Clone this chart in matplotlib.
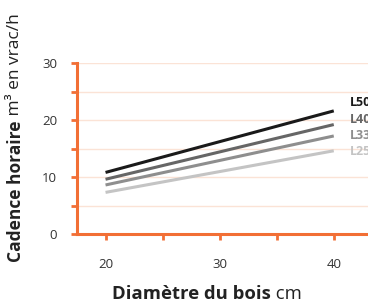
import matplotlib
matplotlib.use("Agg")
import matplotlib.pyplot as plt

# Diameter (cm) vs hourly output (m3 bulk / h) per model
diameters = [20, 40]
series_names = ["L50", "L40", "L33", "L25"]
series_values = [
    [10.8, 21.6],
    [9.6, 19.2],
    [8.6, 17.2],
    [7.3, 14.6],
]
series_colors = ["#1a1a1a", "#666666", "#8e8e8e", "#c4c4c4"]
label_y = [23.0, 20.1, 17.3, 14.5]

orange = "#f26f35"
grid_col = "#fbe3d6"

plt.rcParams["font.family"] = ["Open Sans", "DejaVu Sans"]

fig = plt.figure(figsize=(3.68, 3.02), dpi=100)
ax = fig.add_axes([77 / 368, 68 / 302, 1 - 77 / 368, 171 / 302])

for vals, col in zip(series_values, series_colors):
    ax.plot(diameters, vals, color=col, lw=2.2, solid_capstyle="butt")

for name, col, y in zip(series_names, series_colors, label_y):
    ax.text(41.4, y, name, color=col, fontsize=9, fontweight="bold",
            va="center", ha="left", clip_on=False)

ax.set_xlim(17.5, 43)
ax.set_ylim(0, 30)
ax.set_xticks([20, 25, 30, 35, 40])
ax.set_xticklabels(["20", "", "30", "", "40"])
ax.set_yticks([0, 5, 10, 15, 20, 25, 30])
ax.set_yticklabels(["0", "", "10", "", "20", "", "30"])
for v in [5, 10, 15, 20, 25, 30]:
    ax.axhline(v, color=grid_col, lw=1, zorder=0)

for side in ["top", "right"]:
    ax.spines[side].set_visible(False)
for side in ["left", "bottom"]:
    ax.spines[side].set_color(orange)
    ax.spines[side].set_linewidth(2.2)
ax.tick_params(colors=orange, width=2, length=4.3, labelsize=9.5,
               labelcolor="#333333")
ax.tick_params(axis="x", pad=13)
ax.tick_params(axis="y", pad=10)

# axis titles: bold part + regular part
xt = fig.text(112 / 368, 10 / 302, "Diamètre du bois", fontsize=13.3,
              fontweight="bold", color="#222222", ha="left", va="center_baseline")
ax.annotate(" cm", xy=(1, 0), xycoords=xt, fontsize=13.3, color="#222222",
            ha="left", va="bottom")
yt = fig.text(7 / 368, 40 / 302, "Cadence horaire", fontsize=12.5,
              fontweight="bold", color="#222222", ha="left", va="bottom",
              rotation=90)
ax.annotate(" m³ en vrac/h", xy=(0, 1), xycoords=yt, fontsize=12.5,
            color="#222222", ha="left", va="bottom", rotation=90)

fig.savefig("out.png", dpi=100)
